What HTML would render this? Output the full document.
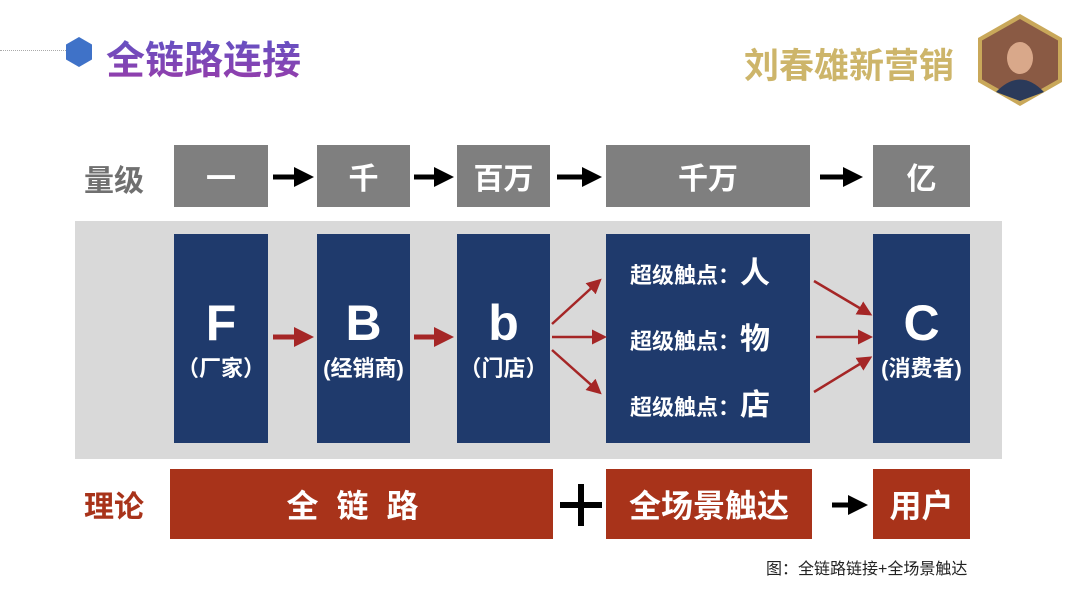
<!DOCTYPE html>
<html><head><meta charset="utf-8"><style>
body{margin:0;width:1080px;height:608px;background:#fff;position:relative;overflow:hidden;font-family:"Liberation Sans","Noto Sans CJK SC",sans-serif}
.a{position:absolute;display:flex;align-items:center;justify-content:center;color:#fff;font-weight:bold;text-align:center}
.g{background:#7f7f7f;top:145px;height:62px;font-size:30px}
.n{background:#1f3a6c;top:234px;height:209px;flex-direction:column}
.r{background:#a8331a;top:469px;height:70px;font-size:32px}
.big{font-size:50px;line-height:56px}
.sm{font-size:22px}
.lbl{position:absolute;font-size:30px;font-weight:bold;left:84px}
</style></head><body>
<div style="position:absolute;left:0;top:50px;width:66px;border-top:1px dotted #aaa"></div>
<svg style="position:absolute;left:64px;top:36px" width="30" height="32"><polygon points="15,1 28,8.5 28,23.5 15,31 2,23.5 2,8.5" fill="#3f72c8"/></svg>
<div style="position:absolute;left:106px;top:30px;font-size:39px;font-weight:bold;color:#6a3fb0;background:linear-gradient(180deg,#5a56c8,#9a3aa8);-webkit-background-clip:text;background-clip:text;-webkit-text-fill-color:transparent">全链路连接</div>
<div style="position:absolute;left:744px;top:38px;font-size:35px;font-weight:bold;color:#cdb56a">刘春雄新营销</div>
<svg style="position:absolute;left:976px;top:12px" width="88" height="96"><polygon points="44,2 86,26 86,70 44,94 2,70 2,26" fill="#c9a85a"/><polygon points="44,7 82,28.5 82,67.5 44,89 6,67.5 6,28.5" fill="#8a5a44"/><ellipse cx="44" cy="46" rx="13" ry="16" fill="#d9a88a"/><path d="M20 80 Q44 55 68 80 L44 89Z" fill="#2a3a5a"/></svg>

<div class="lbl" style="top:156px;color:#707070">量级</div>
<div class="lbl" style="top:309px;color:#2a4a80">层级</div>
<div class="lbl" style="top:482px;color:#a8331a">理论</div>

<div class="a g" style="left:174px;width:94px">一</div>
<div class="a g" style="left:317px;width:93px">千</div>
<div class="a g" style="left:457px;width:93px">百万</div>
<div class="a g" style="left:606px;width:204px">千万</div>
<div class="a g" style="left:873px;width:97px">亿</div>

<div style="position:absolute;left:75px;top:221px;width:927px;height:238px;background:#d9d9d9"></div>
<div class="a n" style="left:174px;width:94px"><div class="big">F</div><div class="sm">（厂家）</div></div>
<div class="a n" style="left:317px;width:93px"><div class="big">B</div><div class="sm">(经销商)</div></div>
<div class="a n" style="left:457px;width:93px"><div class="big">b</div><div class="sm">（门店）</div></div>
<div class="a n" style="left:606px;width:204px;font-size:22px;line-height:64px;padding:4px 6px 0 0;box-sizing:border-box;align-items:flex-start;padding-left:24px;text-align:left"><div>超级触点：<span style="font-size:30px">人</span></div><div>超级触点：<span style="font-size:30px">物</span></div><div>超级触点：<span style="font-size:30px">店</span></div></div>
<div class="a n" style="left:873px;width:97px"><div class="big">C</div><div class="sm">(消费者)</div></div>

<div class="a r" style="left:170px;width:383px;letter-spacing:18px">全链路</div>
<div class="a r" style="left:606px;width:206px">全场景触达</div>
<div class="a r" style="left:873px;width:97px">用户</div>

<svg style="position:absolute;left:0;top:0" width="1080" height="608">
<defs><marker id="k" markerWidth="4" markerHeight="4" refX="2" refY="2" orient="auto"><path d="M0,0L4,2L0,4Z" fill="#000"/></marker>
<marker id="rd" markerWidth="4" markerHeight="4" refX="2" refY="2" orient="auto"><path d="M0,0L4,2L0,4Z" fill="#a52626"/></marker>
<marker id="rt" markerWidth="6" markerHeight="6" refX="4" refY="3" orient="auto"><path d="M0,0L6,3L0,6Z" fill="#a52626"/></marker></defs>
<g stroke="#000" stroke-width="5" marker-end="url(#k)">
<line x1="273" y1="177" x2="304" y2="177"/><line x1="414" y1="177" x2="444" y2="177"/><line x1="557" y1="177" x2="592" y2="177"/><line x1="820" y1="177" x2="853" y2="177"/><line x1="832" y1="505" x2="858" y2="505"/></g>
<g stroke="#a52626" stroke-width="5" marker-end="url(#rd)">
<line x1="273" y1="337" x2="304" y2="337"/><line x1="414" y1="337" x2="444" y2="337"/></g>
<g stroke="#a52626" stroke-width="2.5" marker-end="url(#rt)">
<line x1="552" y1="324" x2="598" y2="282"/><line x1="552" y1="337" x2="602" y2="337"/><line x1="552" y1="350" x2="598" y2="391"/>
<line x1="814" y1="281" x2="868" y2="313"/><line x1="816" y1="337" x2="868" y2="337"/><line x1="814" y1="392" x2="868" y2="359"/></g>
<g stroke="#000" stroke-width="6"><line x1="560" y1="505" x2="602" y2="505"/><line x1="581" y1="484" x2="581" y2="526"/></g>
</svg>
<div style="position:absolute;left:766px;top:555px;font-size:16px;color:#222">图：全链路链接+全场景触达</div>
</body></html>
